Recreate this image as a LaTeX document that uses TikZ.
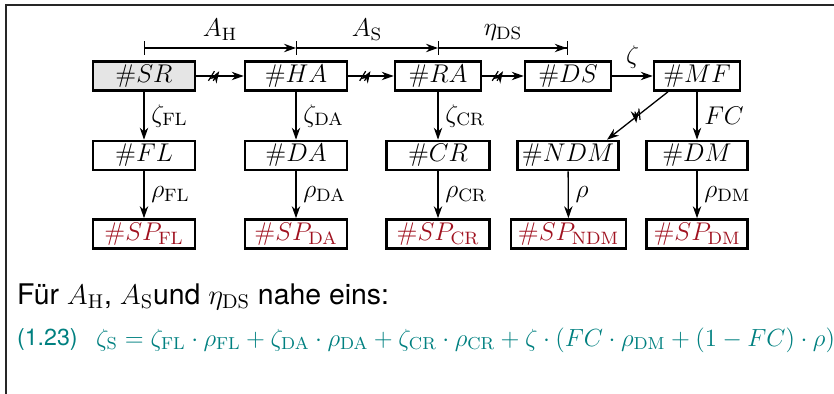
\RequirePackage{fix-cm}
\documentclass[tikz,border=0pt]{standalone}
\usepackage[no-math]{fontspec}
\newfontfamily\hvfont{TeX Gyre Heros}
\usetikzlibrary{arrows.meta,decorations.markings}
\definecolor{spred}{RGB}{160,18,32}
\definecolor{eqteal}{RGB}{0,128,128}
\definecolor{srgray}{RGB}{229,229,229}
\tikzset{
	box/.style={draw, line width=1.3pt, minimum height=14.5pt, inner sep=1pt},
	wide/.style={minimum width=51pt},
	slim/.style={minimum width=43pt},
	spbox/.style={box, text=spred},
	flow/.style={-{Stealth[length=6pt,width=4.2pt]}, line width=0.65pt},
	dimarrow/.style={{Bar[width=7pt]}-{Stealth[length=6pt,width=4.2pt]}, line width=0.65pt},
	dimlast/.style={{Bar[width=7pt]}-{Stealth[length=6pt,width=4.2pt]Bar[width=7pt]}, line width=0.65pt},
	cut/.style={postaction=decorate, decoration={markings, mark=at position #1 with {\draw[line width=0.6pt] (-2.7pt,-2.4pt) -- (0.3pt,2.4pt) (-0.3pt,-2.4pt) -- (2.7pt,2.4pt);}}}
}
\begin{document}
\begin{tikzpicture}[x=0.5pt,y=-0.5pt,font=\fontsize{12.8}{15}\selectfont]
		\useasboundingbox (0,0) rectangle (834,394);
		\def\ya{76}		% first row
		\def\yb{155.5}	% second row
		\def\yc{234}	% third row
		% frame
			\draw [line width=0.75pt, black!85] (6,394) -- (6,5) -- (834,5);
		% first row
			\node [box,wide,fill=srgray] (SR) at (144,\ya) {$\#SR$};
			\node [box,wide] (HA) at (296,\ya) {$\#HA$};
			\node [box,slim] (RA) at (438,\ya) {$\#RA$};
			\node [box,slim] (DS) at (568,\ya) {$\#DS$};
			\node [box,slim] (MF) at (697,\ya) {$\#MF$};
		% second row
			\node [box,wide] (FL) at (144,\yb) {$\#FL$};
			\node [box,wide] (DA) at (296,\yb) {$\#DA$};
			\node [box,minimum width=51.5pt] (CR) at (438,\yb) {$\#CR$};
			\node [box,minimum width=50.5pt] (NDM) at (568,\yb) {$\#NDM$};
			\node [box,minimum width=50.5pt] (DM) at (697,\yb) {$\#DM$};
		% third row
			\node [spbox,wide] (SPFL) at (144,\yc) {$\#SP_{\mathrm{FL}}$};
			\node [spbox,wide] (SPDA) at (296,\yc) {$\#SP_{\mathrm{DA}}$};
			\node [spbox,minimum width=51.5pt] (SPCR) at (438,\yc) {$\#SP_{\mathrm{CR}}$};
			\node [spbox,minimum width=57.5pt] (SPNDM) at (568.5,\yc) {$\#SP_{\mathrm{NDM}}$};
			\node [spbox,minimum width=50.5pt] (SPDM) at (697,\yc) {$\#SP_{\mathrm{DM}}$};
		% dimension line
			\coordinate (dim) at (0,48);
			\draw [dimarrow] (SR |- dim) -- node [above] {$A_{\mathrm{H}}$} (HA |- dim);
			\draw [dimarrow] (HA |- dim) -- node [above] {$A_{\mathrm{S}}$} (RA |- dim);
			\draw [dimlast] (RA |- dim) -- node [above] {$\eta_{\mathrm{DS}}$} (DS |- dim);
		% main chain
			\draw [flow,cut=.37] (SR) -- (HA);
			\draw [flow,cut=.37] (HA) -- (RA);
			\draw [flow,cut=.37] (RA) -- (DS);
			\draw [flow] (DS) -- node [above] {$\zeta$} (MF);
		% branches
			\draw [flow] (SR) -- node [right] {$\zeta_{\mathrm{FL}}$} (FL);
			\draw [flow] (HA) -- node [right] {$\zeta_{\mathrm{DA}}$} (DA);
			\draw [flow] (RA) -- node [right] {$\zeta_{\mathrm{CR}}$} (CR);
			\draw [flow,cut=.5] ([xshift=-14.5pt]MF.south) -- ([xshift=19.5pt]NDM.north);
			\draw [flow] (MF) -- node [right] {$FC$} (DM);
			\draw [flow] (FL) -- node [right] {$\rho_{\mathrm{FL}}$} (SPFL);
			\draw [flow] (DA) -- node [right] {$\rho_{\mathrm{DA}}$} (SPDA);
			\draw [flow] (CR) -- node [right] {$\rho_{\mathrm{CR}}$} (SPCR);
			\draw [flow] (NDM) -- node [right] {$\rho$} (SPNDM);
			\draw [flow] (DM) -- node [right] {$\rho_{\mathrm{DM}}$} (SPDM);
		% text below
			\node [anchor=west, font=\hvfont\fontsize{14.2}{17}\selectfont] (note) at (10,297) {Für $A_{\mathrm{H}}$, $A_{\mathrm{S}}$und $\eta_{\mathrm{DS}}$ nahe eins:};
			\node [anchor=west, font=\hvfont\fontsize{11.6}{14}\selectfont, text=eqteal] (eqno) at (10,340) {(1.23)};
			\node [anchor=west, font=\fontsize{12.4}{15}\selectfont, text=eqteal] (eq) at (89,340) {$\zeta_{\mathrm{S}} = \zeta_{\mathrm{FL}}\cdot\rho_{\mathrm{FL}} + \zeta_{\mathrm{DA}}\cdot\rho_{\mathrm{DA}} + \zeta_{\mathrm{CR}}\cdot\rho_{\mathrm{CR}} + \zeta\cdot(FC\cdot\rho_{\mathrm{DM}} + (1-FC)\cdot\rho)$};
	\end{tikzpicture}
\end{document}
